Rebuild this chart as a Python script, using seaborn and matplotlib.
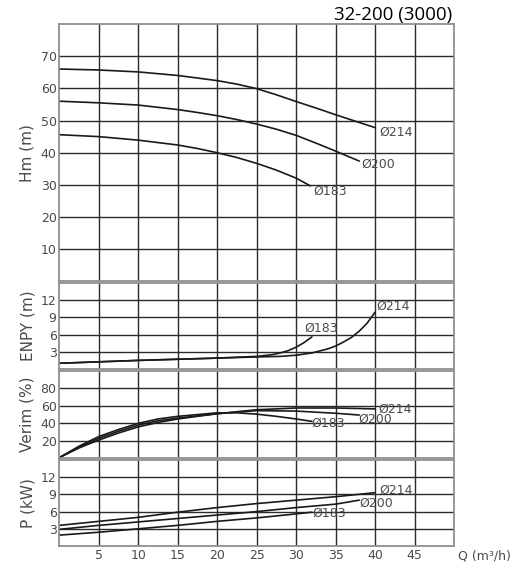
import numpy as np
import pandas as pd
import matplotlib
matplotlib.use("Agg")
import matplotlib.pyplot as plt
import seaborn as sns

sns.set_style("white")
plt.rcParams["font.family"] = ["DejaVu Sans"]

LINE = "#1a1a1a"
GRID = "#2b2b2b"
FRAME = "#8f8f8f"
TXT = "#4a4a4a"

# Hm (m) curves
hm_q = {
    "214": [0, 5, 10, 15, 20, 22.5, 25, 27.5, 30, 32.5, 35, 37.5, 40],
    "200": [0, 5, 10, 15, 17.5, 20, 22.5, 25, 27.5, 30, 32.5, 35, 38],
    "183": [0, 5, 10, 15, 17.5, 20, 22.5, 25, 27.5, 30, 31.8],
}
hm_v = {
    "214": [66.0, 65.7, 65.1, 64.0, 62.4, 61.3, 59.9, 58.0, 55.9, 53.9, 51.8, 49.8, 47.8],
    "200": [56.0, 55.5, 54.8, 53.4, 52.5, 51.5, 50.3, 48.9, 47.3, 45.4, 43.0, 40.5, 37.4],
    "183": [45.6, 45.0, 43.9, 42.4, 41.3, 40.0, 38.5, 36.7, 34.6, 32.1, 29.7],
}

# ENPY (m) curves
npsh_q = {
    "214": [0, 5, 10, 15, 20, 25, 28, 30, 32, 34, 35, 36, 37, 38, 39, 40],
    "183": [0, 5, 10, 15, 20, 25, 27, 28, 29, 30, 31, 32],
}
npsh_v = {
    "214": [1.0, 1.25, 1.5, 1.7, 1.9, 2.1, 2.2, 2.4, 2.8, 3.5, 4.0, 4.7, 5.5, 6.6, 8.0, 9.9],
    "183": [1.0, 1.25, 1.5, 1.7, 1.9, 2.2, 2.5, 2.8, 3.2, 3.8, 4.6, 5.6],
}

# Verim (%) curves
eff_q = {
    "214": [0, 2.5, 5, 7.5, 10, 12.5, 15, 20, 25, 30, 35, 40],
    "200": [0, 2.5, 5, 7.5, 10, 12.5, 15, 20, 25, 30, 35, 38],
    "183": [0, 2.5, 5, 7.5, 10, 12.5, 15, 17.5, 20, 22.5, 25, 27.5, 30, 32],
}
eff_v = {
    "214": [1, 12, 21, 29, 36, 41, 45, 51, 55.5, 57.5, 57.5, 56.5],
    "200": [1, 13, 23, 31, 38, 43, 46, 51, 54.5, 54, 51.5, 49.5],
    "183": [1, 14, 25, 33, 40, 45, 48, 50, 52, 52, 50.5, 48, 45, 42.3],
}

# P (kW) curves
pow_q = {
    "214": [0, 5, 10, 15, 20, 25, 30, 35, 40],
    "200": [0, 5, 10, 15, 20, 25, 30, 35, 38],
    "183": [0, 5, 10, 15, 20, 25, 30, 32],
}
pow_v = {
    "214": [3.6, 4.3, 5.0, 5.9, 6.7, 7.4, 8.0, 8.6, 9.3],
    "200": [2.9, 3.6, 4.2, 4.8, 5.4, 6.0, 6.7, 7.3, 8.0],
    "183": [1.9, 2.4, 3.0, 3.6, 4.3, 4.9, 5.6, 5.9],
}

# label anchors (left edge, vertical centre) per panel
hm_lab = {"214": (40.5, 46.3), "200": (38.2, 36.5), "183": (32.2, 28.1)}
npsh_lab = {"214": (40.2, 10.9), "183": (31.0, 7.1)}
eff_lab = {"214": (40.4, 56.4), "200": (37.9, 44.2), "183": (31.9, 39.7)}
pow_lab = {"214": (40.5, 9.7), "200": (38.0, 7.5), "183": (32.0, 5.8)}

x_ticks = [5, 10, 15, 20, 25, 30, 35, 40, 45]

fig = plt.figure(figsize=(5.17, 5.80), dpi=100)
left, width = 0.1147, 0.7634
panels = [
    ("Hm (m)", [0.5147, 0.4440], (0, 80), [10, 20, 30, 40, 50, 60, 70], hm_q, hm_v, hm_lab),
    ("ENPY (m)", [0.3638, 0.1483], (0, 15), [3, 6, 9, 12], npsh_q, npsh_v, npsh_lab),
    ("Verim (%)", [0.2095, 0.1514], (0, 100), [20, 40, 60, 80], eff_q, eff_v, eff_lab),
    ("P (kW)", [0.0586, 0.1483], (0, 15), [3, 6, 9, 12], pow_q, pow_v, pow_lab),
]

for i, (ylabel, (bottom, height), ylim, yticks, qd, vd, labs) in enumerate(panels):
    ax = fig.add_axes([left, bottom, width, height])
    for key in qd:
        df = pd.DataFrame({"Q": qd[key], "V": vd[key]})
        sns.lineplot(data=df, x="Q", y="V", ax=ax, color=LINE, linewidth=1.2,
                     sort=False, estimator=None)
        tx, ty = labs[key]
        ax.text(tx, ty, "Ø" + key, fontsize=9, color=TXT, ha="left", va="center")
    ax.set_xlim(0, 50)
    ax.set_ylim(*ylim)
    ax.set_xticks(x_ticks)
    ax.set_yticks(yticks)
    ax.grid(True, color=GRID, linewidth=1.0)
    ax.tick_params(length=0, labelsize=9, labelcolor=TXT, pad=2)
    ax.set_ylabel(ylabel, fontsize=11, color=TXT, labelpad=4)
    ax.set_xlabel("")
    if i < len(panels) - 1:
        ax.set_xticklabels([])
    for sp in ax.spines.values():
        sp.set_color(FRAME)
        sp.set_linewidth(1.3)

fig.text(0.886, 0.041, "Q (m³/h)", fontsize=9, color=TXT, ha="left", va="center")
fig.text(0.874, 0.974, "32-200 (3000)", fontsize=13.5, color="black",
         ha="right", va="center", family=["Open Sans", "DejaVu Sans"])

fig.savefig("out.png", dpi=100, facecolor="white")
